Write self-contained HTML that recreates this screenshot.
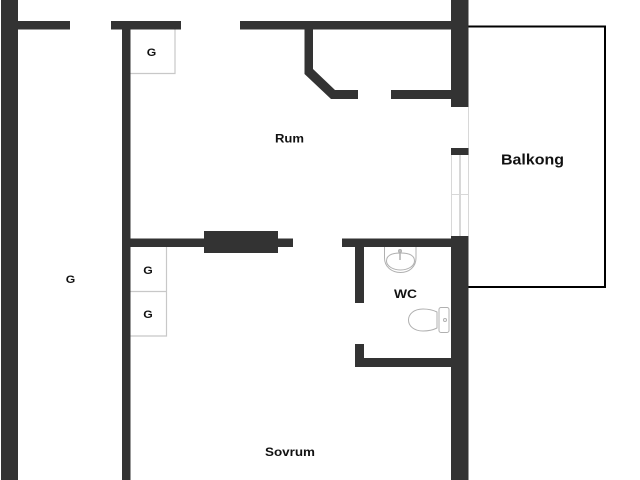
<!DOCTYPE html>
<html><head><meta charset="utf-8">
<style>
html,body{margin:0;padding:0;background:#fff;width:640px;height:480px;overflow:hidden}
svg{display:block}
text{font-family:"Liberation Sans",sans-serif;font-weight:700;fill:#111;text-anchor:middle}
</style></head><body>
<svg width="640" height="480" viewBox="0 0 640 480" xmlns="http://www.w3.org/2000/svg">
<rect width="640" height="480" fill="#fff"/>
<!-- light fixtures -->
<g fill="none" stroke="#c8c8c8" stroke-width="1.2">
<path d="M130 73.500H175V29"/>
<path d="M130 291.500H166.500V247M130 336H166.500V291"/>
</g>
<!-- window -->
<g fill="none" stroke="#d8d8d8">
<path d="M468.500 107V236" stroke-width="1"/>
<path d="M451.500 155V236M451 194.500H468" stroke-width="1"/>
<path d="M460 155V236" stroke-width="2"/>
</g>
<!-- balcony -->
<path d="M468 26.500H605V287H468" fill="none" stroke="#000" stroke-width="2"/>
<!-- walls -->
<g fill="#333">
<rect x="1" y="0" width="17" height="480"/>
<rect x="18" y="21" width="52" height="8.500"/>
<rect x="111" y="21" width="70" height="8.500"/>
<rect x="240" y="21" width="211" height="8.500"/>
<rect x="122" y="29" width="8.500" height="451"/>
<rect x="451" y="0" width="17.500" height="107"/>
<rect x="451" y="148" width="17.500" height="7"/>
<rect x="451" y="236" width="17.500" height="244"/>
<path d="M304.500 29H313V69L335 90H358V99H331L304.500 74Z"/>
<rect x="391" y="90" width="60" height="9"/>
<rect x="130" y="238.500" width="163" height="8.500"/>
<rect x="204" y="231" width="74" height="22"/>
<rect x="342" y="238.500" width="109" height="8.500"/>
<rect x="355" y="247" width="9" height="56"/>
<rect x="355" y="344" width="9" height="23"/>
<rect x="355" y="358" width="96" height="9"/>
</g>
<!-- sink -->
<g fill="none" stroke="#b0b0b0" stroke-width="1">
<path d="M384.500 247V258C384.500 267 392 272.500 400.500 272.500C409 272.500 416 267 416 258V247"/>
<path d="M386.500 261C386.500 255 392 253 400.500 253C409 253 414.500 255 414.500 261C414.500 266 408 270 400.500 270C393 270 386.500 266 386.500 261Z"/>
<path d="M400 249V260" stroke-width="1.500"/>
<circle cx="400" cy="251" r="1.500"/>
</g>
<!-- toilet -->
<g fill="none" stroke="#b0b0b0" stroke-width="1">
<path d="M437 312C433 310 429 309 423 309C414 309 408.500 314 408.500 320C408.500 326 414 331 423 331C429 331 433 330 437 328Z" fill="#fff"/>
<rect x="439" y="307.500" width="10" height="25" rx="2"/>
<circle cx="445" cy="320" r="1.500"/>
</g>
<!-- labels -->
<text x="151.500" y="56" font-size="11" textLength="9.500" lengthAdjust="spacingAndGlyphs">G</text>
<text x="289.500" y="142.500" font-size="12" textLength="29" lengthAdjust="spacingAndGlyphs">Rum</text>
<text x="532.500" y="164.500" font-size="15" textLength="63" lengthAdjust="spacingAndGlyphs">Balkong</text>
<text x="148" y="274" font-size="11" textLength="9.500" lengthAdjust="spacingAndGlyphs">G</text>
<text x="148" y="318" font-size="11" textLength="9.500" lengthAdjust="spacingAndGlyphs">G</text>
<text x="70.500" y="283" font-size="11" textLength="9.500" lengthAdjust="spacingAndGlyphs">G</text>
<text x="405.500" y="298" font-size="12" textLength="23" lengthAdjust="spacingAndGlyphs">WC</text>
<text x="290" y="456" font-size="12" textLength="50" lengthAdjust="spacingAndGlyphs">Sovrum</text>
</svg>
</body></html>
